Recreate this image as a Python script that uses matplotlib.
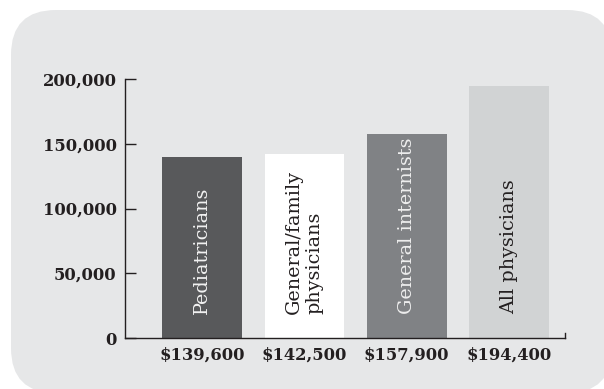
import matplotlib.pyplot as plt
from matplotlib.patches import FancyBboxPatch

categories = ['Pediatricians', 'General/family\nphysicians', 'General internists', 'All physicians']
salaries = [139600, 142500, 157900, 194400]
salary_labels = ['$139,600', '$142,500', '$157,900', '$194,400']
bar_colors = ['#58595b', '#ffffff', '#808285', '#d1d3d4']
text_colors = ['#f2f2f2', '#231f20', '#eeeeee', '#231f20']
y_ticks = [0, 50000, 100000, 150000, 200000]

ink = '#231f20'
plt.rcParams['font.family'] = 'DejaVu Serif'

fig = plt.figure(figsize=(6.04, 3.89), dpi=100)

# rounded grey panel behind the chart (display pixels)
panel = FancyBboxPatch((11, -4), 601, 383, boxstyle='round,pad=0,rounding_size=45',
                       transform=None, facecolor='#e6e7e8', edgecolor='none', zorder=0)
fig.add_artist(panel)

ax = fig.add_axes([0.207, 0.131, 0.7285, 0.6658])
ax.set_facecolor('none')

x = range(len(categories))
ax.bar(x, salaries, width=0.78, color=bar_colors, zorder=2)

for i, (name, tc) in enumerate(zip(categories, text_colors)):
    ax.annotate(name, xy=(i, 0), xytext=(0, 24), textcoords='offset pixels',
                rotation=90, ha='center', va='bottom', multialignment='left',
                fontsize=13.8, color=tc, zorder=3)

ax.set_xlim(-0.753, 3.547)
ax.set_ylim(0, 200000)
ax.set_yticks(y_ticks)
ax.set_yticklabels([f'{v:,}' for v in y_ticks])
ax.set_xticks(list(x))
ax.set_xticklabels(salary_labels)

for lab in ax.get_xticklabels() + ax.get_yticklabels():
    lab.set_fontweight('bold')
    lab.set_fontsize(11.8)
    lab.set_color(ink)

ax.tick_params(axis='y', direction='in', length=8, width=1, color=ink, pad=6)
ax.tick_params(axis='x', length=0, pad=6)

ax.spines['top'].set_visible(False)
ax.spines['right'].set_bounds(0, 4000)
for side in ['left', 'bottom', 'right']:
    ax.spines[side].set_color(ink)
    ax.spines[side].set_linewidth(1)

fig.savefig('out.png', dpi=100)
